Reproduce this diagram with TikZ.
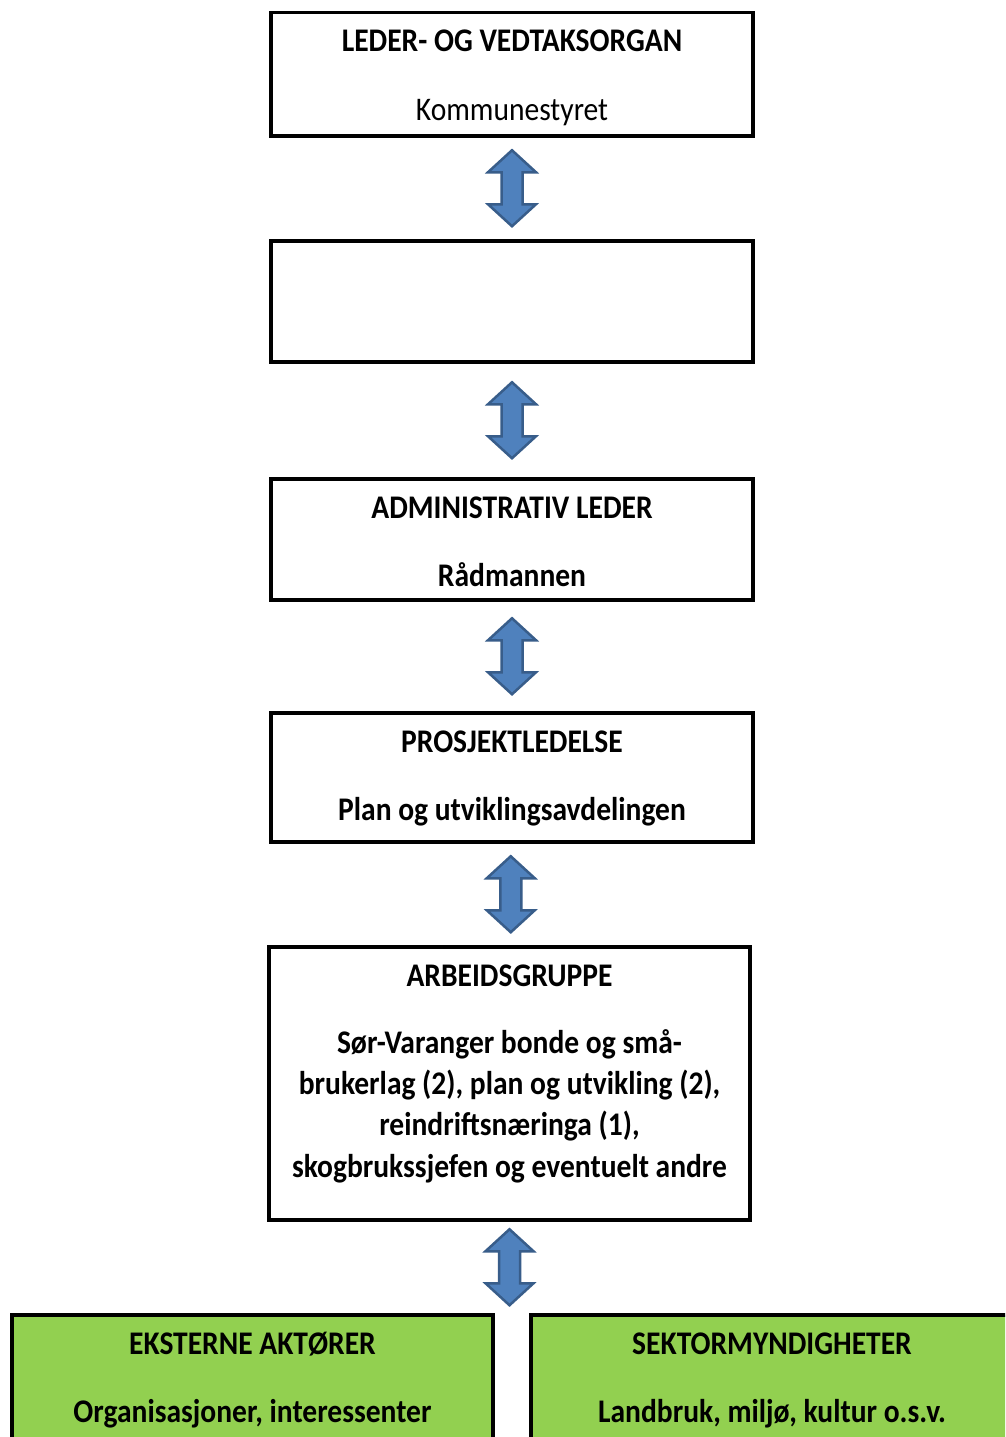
\documentclass[tikz,border=0pt]{standalone}
\usepackage{fontspec}
\setmainfont[FakeStretch=0.895]{Carlito}
\usetikzlibrary{calc,positioning}
\definecolor{arrowfill}{HTML}{4F81BD}
\definecolor{arrowline}{HTML}{385D8A}
\definecolor{actorgreen}{HTML}{92D050}
\tikzset{
  orgbox/.style={draw=black, line width=3.5pt, minimum width=482pt, anchor=north},
  greenbox/.style={orgbox, fill=actorgreen, minimum height=170pt},
  boxtext/.style={anchor=base, inner sep=0pt, font=\fontsize{33}{41.3}\selectfont\bfseries},
  plaintext/.style={boxtext, font=\fontsize{33}{41.3}\selectfont},
  updown/.pic={
    \draw[arrowline, fill=arrowfill, line width=2.5pt]
      (0,-38) -- (24,-16) -- (10.5,-16) -- (10.5,16) -- (24,16) -- (0,38)
      -- (-24,16) -- (-10.5,16) -- (-10.5,-16) -- (-24,-16) -- cycle;
  }
}
\begin{document}
\begin{tikzpicture}[x=1pt, y=-1pt]
 \clip (0,0) rectangle (1005,1437);
 \fill[white] (0,0) rectangle (1005,1437);
 % boxes
 \node[orgbox, minimum height=123pt] (lead) at (512,11) {};
 \node[orgbox, minimum height=121pt] (blank) at (512,239) {};
 \node[orgbox, minimum height=121pt] (admin) at (512,477) {};
 \node[orgbox, minimum height=129pt] (proj) at (512,711) {};
 \node[orgbox, minimum width=481pt, minimum height=273pt] (work) at (509.5,945) {};
 \node[greenbox, minimum width=481pt] (ext) at (252.5,1313) {};
 \node[greenbox] (sect) at (772,1313) {};
 % texts
 \node[boxtext] (leadT) at ($(lead.north)+(0,41)$) {LEDER- OG VEDTAKSORGAN};
 \node[plaintext] (leadS) at ($(lead.north)+(0,109)$) {Kommunestyret};
 \node[boxtext] (adminT) at ($(admin.north)+(0,41)$) {ADMINISTRATIV LEDER};
 \node[boxtext] (adminS) at ($(admin.north)+(0,109)$) {Rådmannen};
 \node[boxtext] (projT) at ($(proj.north)+(0,41)$) {PROSJEKTLEDELSE};
 \node[boxtext] (projS) at ($(proj.north)+(0,109)$) {Plan og utviklingsavdelingen};
 \node[boxtext] (workT) at ($(work.north)+(0,41)$) {ARBEIDSGRUPPE};
 \node[boxtext, align=center] (workS) at ($(work.north)+(0,232)$)
   {Sør-Varanger bonde og små-\\brukerlag (2), plan og utvikling (2),\\reindriftsnæringa (1),\\skogbrukssjefen og eventuelt andre};
 \node[boxtext] (extT) at ($(ext.north)+(0,41)$) {EKSTERNE AKTØRER};
 \node[boxtext] (extS) at ($(ext.north)+(0,109)$) {Organisasjoner, interessenter};
 \node[boxtext] (sectT) at ($(sect.north)+(0,41)$) {SEKTORMYNDIGHETER};
 \node[boxtext] (sectS) at ($(sect.north)+(0,109)$) {Landbruk, miljø, kultur o.s.v.};
 % arrows
 \pic at ($(lead.south)!.5!(blank.north)$) {updown};
 \pic at ($(blank.south)!.5!(admin.north)$) {updown};
 \pic at ($(admin.south)!.5!(proj.north)$) {updown};
 \pic at ($(proj.south)!.5!(work.north)$) {updown};
 \pic at ($(work.south)!.5!(work.south |- ext.north)$) {updown};
\end{tikzpicture}
\end{document}
